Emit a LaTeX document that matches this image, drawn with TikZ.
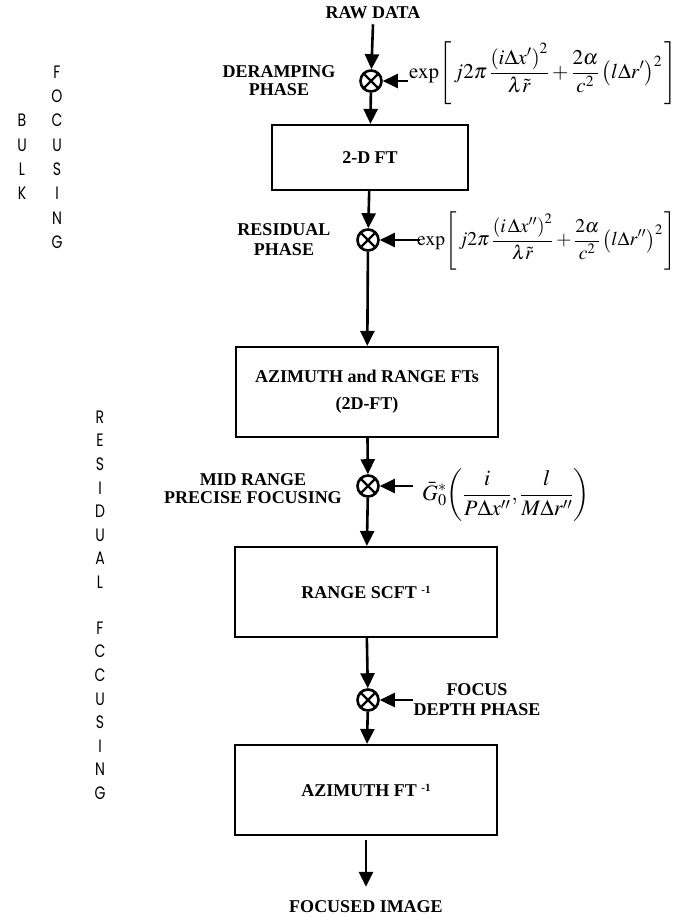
\documentclass[tikz,border=0pt]{standalone}
\usepackage{mathptmx}
\usepackage{fontspec}
\setmainfont{Liberation Serif}
\newfontfamily\gothic{Poppins}
\usetikzlibrary{arrows.meta}
\newcommand{\vl}[1]{\scalebox{0.78}[1]{#1}}
\begin{document}
\begin{tikzpicture}[x=1pt,y=-1pt,
  arr/.style={line width=2.6pt,-{Triangle[length=15pt,width=14pt]}},
  box/.style={draw,line width=2.2pt,inner sep=0pt,align=center,
    font=\fontsize{18}{27}\selectfont\bfseries},
  lbl/.style={align=center,inner sep=0pt,font=\fontsize{18}{#1}\selectfont\bfseries},
  mult/.style={circle,draw,line width=2.6pt,minimum size=21pt,inner sep=0pt,
    path picture={\draw[line width=2.2pt]
      (path picture bounding box.north west)--(path picture bounding box.south east)
      (path picture bounding box.north east)--(path picture bounding box.south west);}},
  vlet/.style={inner sep=0pt,font=\gothic\fontsize{18}{18}\selectfont},
  eq/.style={anchor=west,inner sep=0pt,font=\fontsize{21}{24}\selectfont}]
\useasboundingbox (0,0) rectangle (679,921);

% vertical side letters
\foreach \c [count=\i] in {F,O,C,U,S,I,N,G}
  \node[vlet] (bf\i) at (57,{72+(\i-1)*24.3}) {\vl{\c}};
\foreach \c [count=\i] in {B,U,L,K}
  \node[vlet] (bb\i) at (22,{120.6+(\i-1)*24.3}) {\vl{\c}};
\foreach \c [count=\i] in {R,E,S,I,D,U,A,L}
  \node[vlet] (rr\i) at (100,{417+(\i-1)*23.6}) {\vl{\c}};
\foreach \c [count=\i] in {F,C,C,U,S,I,N,G}
  \node[vlet] (rf\i) at (100,{628+(\i-1)*23.6}) {\vl{\c}};

% main chain
\node[lbl=20] (raw) at (373,13) {RAW DATA};
\node[mult] (m1) at (371,81) {};
\node[box,minimum width=196pt,minimum height=65pt] (b1) at (370,157.5) {2-D FT};
\node[mult] (m2) at (368,240) {};
\node[box,minimum width=262pt,minimum height=90pt] (b2) at (367,392)
  {AZIMUTH and RANGE FTs\\(2D-FT)};
\node[mult] (m3) at (368,486) {};
\node[box,minimum width=262pt,minimum height=90pt] (b3) at (366,592)
  {RANGE SCFT \raisebox{0.6ex}{\fontsize{11}{11}\selectfont -1}};
\node[mult] (m4) at (368,700) {};
\node[box,minimum width=262pt,minimum height=90pt] (b4) at (366,790)
  {AZIMUTH FT \raisebox{0.6ex}{\fontsize{11}{11}\selectfont -1}};
\node[lbl=20] (out) at (366,907) {FOCUSED IMAGE};

\draw[arr] ([yshift=-5pt]raw.south) -- (m1);
\draw[arr] (m1) -- (b1);
\draw[arr] (b1) -- (m2);
\draw[arr] (m2) -- (b2);
\draw[arr] (b2) -- (m3);
\draw[arr] (m3) -- (b3);
\draw[arr] (b3) -- (m4);
\draw[arr] (m4) -- (b4);
\draw[arr] ([yshift=-4pt]b4.south) -- ([yshift=14pt]out.north);

% side labels
\node[lbl=18] (l1) at (279,81) {DERAMPING\\PHASE};
\node[lbl=20] (l2) at (284,240) {RESIDUAL\\PHASE};
\node[lbl=18] (l3) at (253,489) {MID RANGE\\PRECISE FOCUSING};
\node[lbl=20] (l4) at (477,700) {FOCUS\\DEPTH PHASE};

% inputs
\coordinate (i1) at (408,81);
\coordinate (i2) at (420,240);
\coordinate (i3) at (413,486);
\coordinate (i4) at (413,700);
\draw[arr] (i1) -- (m1);
\draw[arr] (i2) -- (m2);
\draw[arr] (i3) -- (m3);
\draw[arr] (i4) -- (m4);

\node[eq] (e1) at (409,73)
 {$\displaystyle \exp\!\left[\, j2\pi\,\frac{\left(i\Delta x'\right)^2}{\lambda\tilde{r}}
   +\frac{2\alpha}{c^2}\left(l\Delta r'\right)^2\,\right]$};
\node[eq,font=\fontsize{19.5}{22}\selectfont] (e2) at (417,241)
 {$\displaystyle \exp\!\left[\, j2\pi\,\frac{\left(i\,\Delta x''\right)^2}{\lambda\tilde{r}}
   +\frac{2\alpha}{c^2}\left(l\Delta r''\right)^2\,\right]$};
\node[eq,font=\fontsize{22}{24}\selectfont] (e3) at (422,495)
 {$\displaystyle \bar{G}_0^{*}\!\left(\frac{i}{P\Delta x''},\frac{l}{M\Delta r''}\right)$};
\end{tikzpicture}
\end{document}
